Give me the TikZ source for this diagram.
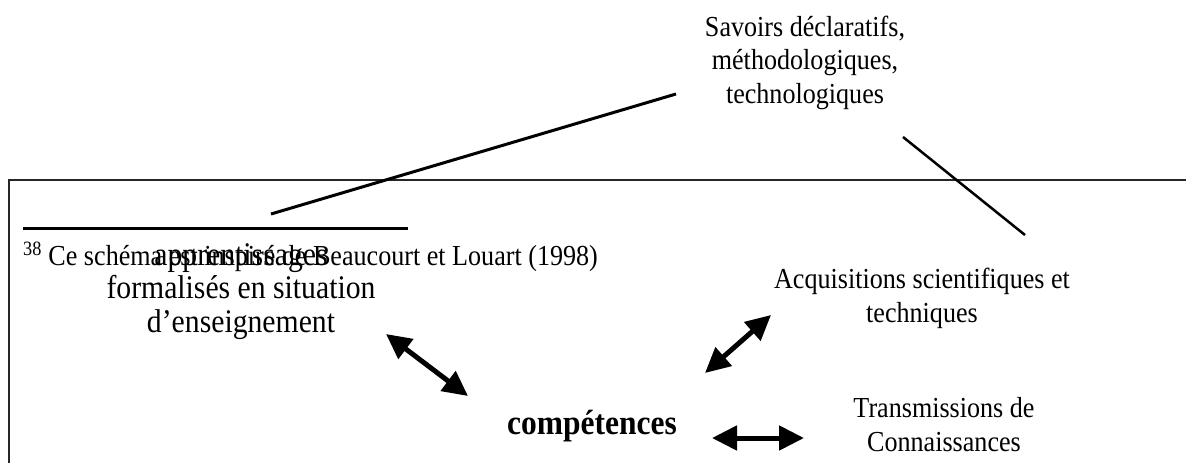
\documentclass[tikz,border=0pt]{standalone}
\usepackage{fontspec}
\setmainfont[FakeStretch=0.9]{Liberation Serif}
\usetikzlibrary{arrows.meta}

\begin{document}
\begin{tikzpicture}
[
	x=1pt, y=-1pt,
	txt/.style={align=center,inner sep=0pt,anchor=base,font=\fontsize{29}{33.5}\selectfont},
	bigtxt/.style={txt,font=\fontsize{33}{33.5}\selectfont},
	dbl/.style={line width=5pt,{Triangle[length=25pt,width=24pt]}-{Triangle[length=25pt,width=24pt]}},
	rulestyle/.style={line width=3pt}
]
	\useasboundingbox (0,0) rectangle (1186,463);

	% page frame
	\draw[line width=2pt,black!85] (9,463) -- (9,180) -- (1186,180);

	% footnote
	\draw[rulestyle] (23,228) -- (408,228);
	\node[txt,anchor=base west] (fn) at (23,265)
	  {\textsuperscript{38} Ce schéma est inspiré de Beaucourt et Louart (1998)};

	% texts (base = baseline of the last line)
	\node[txt] (sav) at (805,103) {Savoirs déclaratifs,\\méthodologiques,\\technologiques};
	\node[bigtxt] (app) at (241,332) {apprentissages\\formalisés en situation\\d’enseignement};
	\node[txt] (acq) at (922,322) {Acquisitions scientifiques et\\techniques};
	\node[txt] (tra) at (944,451) {Transmissions de\\Connaissances};
	\node[txt,font=\fontsize{35}{35}\selectfont\bfseries] (comp) at (592,434) {compétences};

	% lines and arrows
	\coordinate (l1a) at (271,214);
	\coordinate (l1b) at (676,94);
	\coordinate (l2a) at (903,137);
	\coordinate (l2b) at (1025,235);
	\draw[rulestyle] (l1a) -- (l1b);
	\draw[line width=2.5pt] (l2a) -- (l2b);

	\coordinate (a1a) at (386,334);
	\coordinate (a1b) at (468,396);
	\coordinate (a2a) at (705,373);
	\coordinate (a2b) at (771,315);
	\coordinate (a3a) at (712,438);
	\coordinate (a3b) at (804,438);
	\draw[dbl] (a1a) -- (a1b);
	\draw[dbl] (a2a) -- (a2b);
	\draw[dbl] (a3a) -- (a3b);

\end{tikzpicture}
\end{document}
